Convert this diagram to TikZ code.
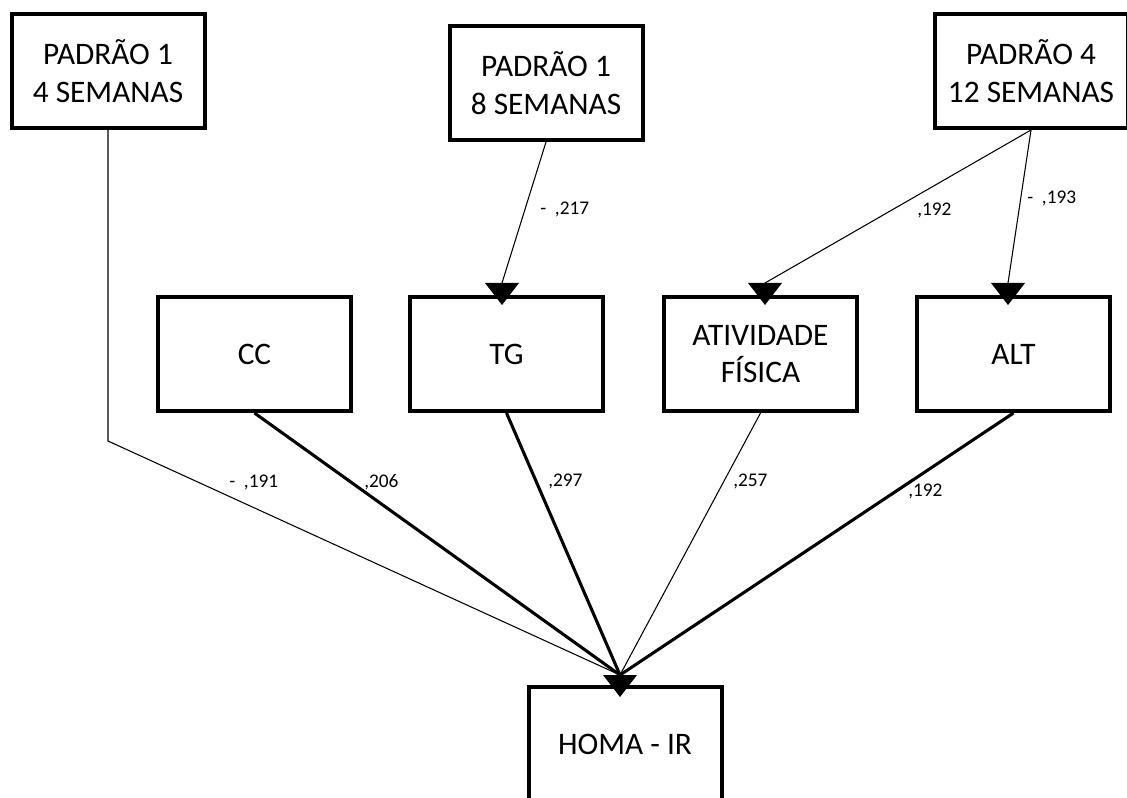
\documentclass[tikz,border=0pt]{standalone}
\usepackage{fontspec}
\setmainfont{Carlito}
\begin{document}
\begin{tikzpicture}[x=0.75pt,y=-0.75pt,
  box/.style={draw,line width=3pt,minimum width=144.75pt,minimum height=85.5pt,inner sep=0pt,align=center,font=\fontsize{23.5}{28}\selectfont},
  thinline/.style={line width=0.8pt},
  thickline/.style={line width=2.3pt},
  lbl/.style={anchor=base west,inner sep=0pt,font=\fontsize{14.5}{17}\selectfont},
  downtip/.pic={\fill (-17,-22) -- (17,-22) -- (0,0) -- cycle;}]
\useasboundingbox (0,0) rectangle (1127,798);
% boxes
\node[box] (p14) at (108,71) {PADRÃO 1\\4 SEMANAS};
\node[box] (p18) at (546,83) {PADRÃO 1\\8 SEMANAS};
\node[box] (p412) at (1031,71) {PADRÃO 4\\12 SEMANAS};
\node[box] (cc) at (254.5,354) {CC};
\node[box] (tg) at (506.5,354) {TG};
\node[box] (af) at (760.5,354) {ATIVIDADE\\FÍSICA};
\node[box] (alt) at (1013.5,354) {ALT};
\node[box] (homa) at (625,744) {HOMA - IR};
% arrow points
\coordinate (tgtip) at (502,305);
\coordinate (tgin) at (502,283);
\coordinate (aftip) at (765,305);
\coordinate (afin) at (765,283);
\coordinate (alttip) at (1008,305);
\coordinate (altin) at (1008,283);
\coordinate (homatip) at (620,697);
\coordinate (homain) at (620,675);
\coordinate (bend) at (108,441);
% connectors
\draw[thinline] (p18.south) -- (tgin);
\draw[thinline] (p412.south) -- (afin);
\draw[thinline] (p412.south) -- (altin);
\draw[thinline] (p14.south) -- (bend) -- (homain);
\draw[thickline] (cc.south) -- (homain);
\draw[thickline] (tg.south) -- (homain);
\draw[thinline] (af.south) -- (homain);
\draw[thickline] (alt.south) -- (homain);
\pic at (tgtip) {downtip};
\pic at (aftip) {downtip};
\pic at (alttip) {downtip};
\pic at (homatip) {downtip};
% labels
\node[lbl] (l217) at (540,215) {-\ \ ,217};
\node[lbl] (l192a) at (917,216) {,192};
\node[lbl] (l193) at (1027,204) {-\ \ ,193};
\node[lbl] (l191) at (229,487) {-\ \ ,191};
\node[lbl] (l206) at (364,487) {,206};
\node[lbl] (l297) at (548,486) {,297};
\node[lbl] (l257) at (733,486) {,257};
\node[lbl] (l192b) at (908,496) {,192};
\end{tikzpicture}
\end{document}
